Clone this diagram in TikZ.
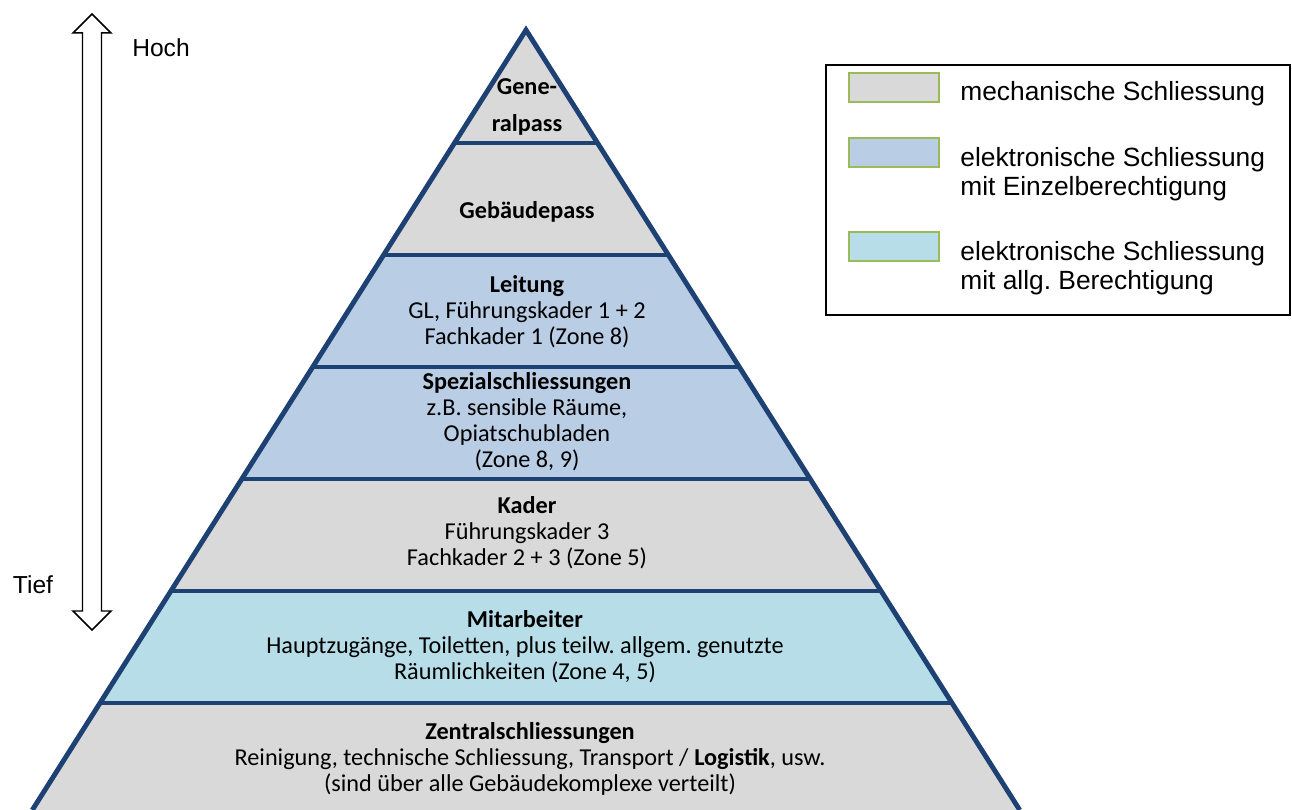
\documentclass[tikz,border=0pt]{standalone}
\usepackage{fontspec}
\setmainfont{Liberation Sans}
\newfontfamily\calibri{Carlito}
\usepackage{xcolor}
\usepackage{tikz}
\usetikzlibrary{positioning}

\definecolor{rand}{RGB}{30,65,115}
\definecolor{grau}{HTML}{D9D9D9}
\definecolor{blau}{HTML}{B9CDE5}
\definecolor{tuerkis}{HTML}{B7DEE8}
\definecolor{swgruen}{HTML}{9BBB59}

\tikzset{
  kante/.style={draw=rand, line width=2.8pt, line join=miter},
  stufentext/.style={font=\calibri\fontsize{13.8}{14.8}\selectfont, align=center, inner sep=0pt},
  legtext/.style={font=\fontsize{15}{16.7}\selectfont, align=left, anchor=west, inner sep=0pt},
  feld/.style={draw=swgruen, line width=0.6pt, minimum width=1.8cm, minimum height=0.58cm, inner sep=0pt},
  achsetext/.style={font=\fontsize{14}{16}\selectfont, inner sep=0pt}
}

\begin{document}
\frenchspacing
\begin{tikzpicture}[x=0.02cm, y=-0.02cm]
  \useasboundingbox (0,0) rectangle (1292,810);

  % Eckpunkte der Stufen
  \coordinate (spitze) at (526,30);
  \coordinate (l1) at (454.5,143); \coordinate (r1) at (597.5,143);
  \coordinate (l2) at (383.6,255); \coordinate (r2) at (668.4,255);
  \coordinate (l3) at (312.7,367); \coordinate (r3) at (739.3,367);
  \coordinate (l4) at (241.8,479); \coordinate (r4) at (810.2,479);
  \coordinate (l5) at (170.9,591); \coordinate (r5) at (881.1,591);
  \coordinate (l6) at (100.0,703); \coordinate (r6) at (952.0,703);
  \coordinate (l7) at (32.3,810);  \coordinate (r7) at (1019.7,810);

  % Flaechen
  \fill[grau] (spitze) -- (l1) -- (r1) -- cycle;
  \fill[grau] (l1) -- (l2) -- (r2) -- (r1) -- cycle;
  \fill[blau] (l2) -- (l3) -- (r3) -- (r2) -- cycle;
  \fill[blau] (l3) -- (l4) -- (r4) -- (r3) -- cycle;
  \fill[grau] (l4) -- (l5) -- (r5) -- (r4) -- cycle;
  \fill[tuerkis] (l5) -- (l6) -- (r6) -- (r5) -- cycle;
  \fill[grau] (l6) -- (l7) -- (r7) -- (r6) -- cycle;

  % Umriss und Trennlinien
  \draw[kante] (l7) -- (spitze) -- (r7);
  \foreach \i in {1,...,6}
    \draw[kante] (l\i) -- (r\i);

  % Beschriftung der Stufen
  \node[stufentext] (general) at (527,107) {\textbf{Gene-}\\[6.2pt]\textbf{ralpass}};
  \node[stufentext] (gebaeude) at (527,212) {\textbf{Gebäudepass}};
  \node[stufentext] (leitung) at (527,312) {\textbf{Leitung}\\GL, Führungskader 1 + 2\\Fachkader 1 (Zone 8)};
  \node[stufentext] (spezial) at (527,422) {\textbf{Spezialschliessungen}\\z.B. sensible Räume,\\Opiatschubladen\\(Zone 8, 9)};
  \node[stufentext] (kader) at (527,533) {\textbf{Kader}\\Führungskader 3\\Fachkader 2 + 3 (Zone 5)};
  \node[stufentext] (mitarbeiter) at (525,647) {\textbf{Mitarbeiter}\\Hauptzugänge, Toiletten, plus teilw. allgem. genutzte\\Räumlichkeiten (Zone 4, 5)};
  \node[stufentext] (zentral) at (530,759) {\textbf{Zentralschliessungen}\\Reinigung, technische Schliessung, Transport / \textbf{Logistik}, usw.\\(sind über alle Gebäudekomplexe verteilt)};

  % Doppelpfeil hoch/tief
  \draw[line width=0.85pt, line join=miter]
    (92,14) -- (111,33) -- (101.5,33) -- (101.5,611) -- (111,611) -- (92,630)
    -- (73,611) -- (82.5,611) -- (82.5,33) -- (73,33) -- cycle;
  \node[achsetext] (hoch) at (161,48) {Hoch};
  \node[achsetext] (tief) at (33,585) {Tief};

  % Legende
  \draw[line width=1.1pt] (826,65) rectangle (1290,315);
  \node[feld, fill=grau] (mech) at (894,87.5) {};
  \node[feld, fill=blau] (einzel) at (894,152.5) {};
  \node[feld, fill=tuerkis] (allg) at (894,246.5) {};
  \node[legtext] (mechtext) at (960,94) {mechanische Schliessung};
  \node[legtext] (einzeltext) at (960,174) {elektronische Schliessung\\mit Einzelberechtigung};
  \node[legtext] (allgtext) at (960,268) {elektronische Schliessung\\mit allg. Berechtigung};
\end{tikzpicture}
\end{document}
